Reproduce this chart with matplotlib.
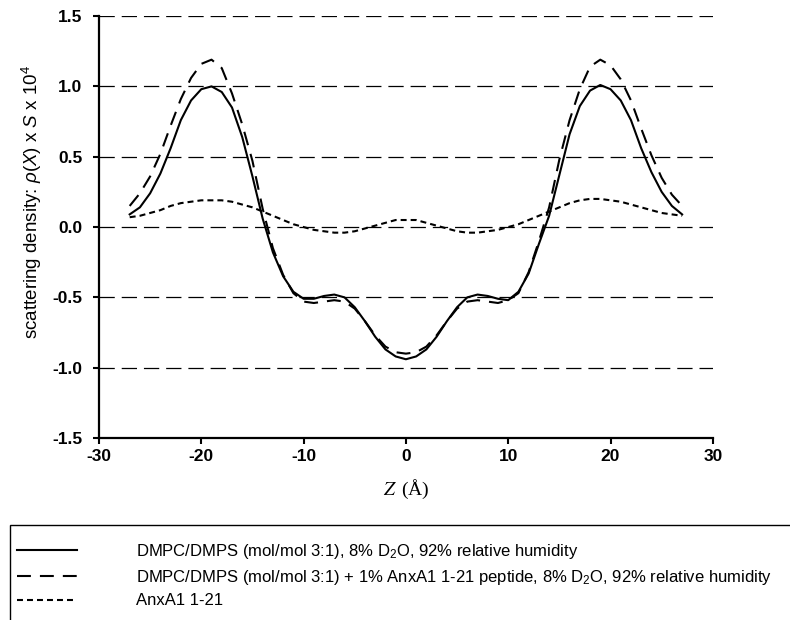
import matplotlib
matplotlib.use("Agg")
import matplotlib.pyplot as plt
import matplotlib.patches as mpatches
import numpy as np

plt.rcParams["font.family"] = ["Liberation Sans", "DejaVu Sans"]
plt.rcParams["mathtext.fontset"] = "custom"
plt.rcParams["mathtext.rm"] = "Liberation Sans"
plt.rcParams["mathtext.it"] = "Liberation Sans:italic"
plt.rcParams["lines.scale_dashes"] = False

# ---------------------------------------------------------------------------
# Data (Z in Angstrom, density x 10^4)
# ---------------------------------------------------------------------------
z = np.arange(-27, 28)

lipid_only = [
    0.09, 0.14, 0.24, 0.38, 0.56, 0.76, 0.90, 0.98, 1.00, 0.96,
    0.85, 0.64, 0.36, 0.06, -0.18, -0.35, -0.46, -0.51, -0.51, -0.49,
    -0.48, -0.50, -0.57, -0.67, -0.78, -0.87, -0.92, -0.94,
    -0.92, -0.87, -0.78, -0.67, -0.57, -0.50, -0.48, -0.49, -0.51, -0.52,
    -0.46, -0.33, -0.12, 0.08, 0.37, 0.66, 0.86, 0.97, 1.01, 0.98,
    0.90, 0.76, 0.56, 0.39, 0.25, 0.15, 0.09,
]

with_peptide = [
    0.15, 0.24, 0.36, 0.52, 0.72, 0.91, 1.06, 1.16, 1.19, 1.13,
    0.95, 0.73, 0.47, 0.13, -0.15, -0.34, -0.47, -0.53, -0.54, -0.53,
    -0.52, -0.53, -0.58, -0.67, -0.77, -0.85, -0.89, -0.90,
    -0.89, -0.85, -0.77, -0.67, -0.58, -0.53, -0.52, -0.53, -0.54, -0.52,
    -0.47, -0.32, -0.10, 0.14, 0.48, 0.76, 0.98, 1.14, 1.19, 1.15,
    1.05, 0.90, 0.70, 0.51, 0.35, 0.23, 0.15,
]

peptide_only = [
    0.07, 0.08, 0.10, 0.12, 0.15, 0.17, 0.18, 0.19, 0.19, 0.19,
    0.18, 0.16, 0.14, 0.11, 0.08, 0.05, 0.02, 0.00, -0.02, -0.03,
    -0.04, -0.04, -0.03, -0.01, 0.01, 0.03, 0.05, 0.05,
    0.05, 0.03, 0.01, -0.01, -0.03, -0.04, -0.04, -0.03, -0.02, 0.00,
    0.02, 0.05, 0.08, 0.11, 0.14, 0.17, 0.19, 0.20, 0.20, 0.19,
    0.18, 0.16, 0.14, 0.12, 0.10, 0.09, 0.08,
]

labels = [
    "DMPC/DMPS (mol/mol 3:1), 8% D$_2$O, 92% relative humidity",
    "DMPC/DMPS (mol/mol 3:1) + 1% AnxA1 1-21 peptide, 8% D$_2$O, 92% relative humidity",
    "AnxA1 1-21",
]

x_ticks = [-30, -20, -10, 0, 10, 20, 30]
y_ticks = [-1.5, -1.0, -0.5, 0.0, 0.5, 1.0, 1.5]
grid_levels = [-1.0, -0.5, 0.0, 0.5, 1.0, 1.5]

# ---------------------------------------------------------------------------
# Figure
# ---------------------------------------------------------------------------
fig = plt.figure(figsize=(7.9, 6.2), dpi=100)
ax = fig.add_axes([0.1253, 0.2935, 0.777, 0.6806])

for lvl in grid_levels:
    ax.axhline(lvl, color="black", lw=0.9, dashes=(11, 5), zorder=1)

l1, = ax.plot(z, lipid_only, color="black", lw=1.5, label=labels[0], zorder=3)
l2, = ax.plot(z, with_peptide, color="black", lw=1.5, dashes=(10, 6.5),
              label=labels[1], zorder=3)
l3, = ax.plot(z, peptide_only, color="black", lw=1.5, dashes=(4.3, 2.9),
              label=labels[2], zorder=3)

ax.set_xlim(-30, 30)
ax.set_ylim(-1.5, 1.5)
ax.set_xticks(x_ticks)
ax.set_yticks(y_ticks)
ax.set_xticklabels([f"{v:d}" for v in x_ticks], fontweight="bold", fontsize=12.5)
ax.set_yticklabels([f"{v:.1f}" for v in y_ticks], fontweight="bold", fontsize=12.5)
ax.tick_params(axis="y", direction="out", length=4, width=1.5, pad=8)
ax.tick_params(axis="x", direction="out", length=4, width=1.5, pad=4)

for side in ("top", "right"):
    ax.spines[side].set_visible(False)
for side in ("left", "bottom"):
    ax.spines[side].set_linewidth(1.6)

ax.set_ylabel(r"scattering density: $\rho(X)$ x $S$ x 10$^4$", fontsize=13.5)
ax.yaxis.set_label_coords(-0.09, 0.56)
ax.set_xlabel(r"$Z\,$ (Å)", fontsize=14, family="Liberation Serif",
              math_fontfamily="stix")
ax.xaxis.labelpad = 10

# legend box below the plot (right/bottom edges run off the figure)
fig.patches.append(mpatches.Rectangle(
    (0.013, -0.05), 1.0, 0.203, transform=fig.transFigure,
    facecolor="none", edgecolor="black", lw=1.0))
fig.legend(handles=[l1, l2, l3], loc="upper left",
           bbox_to_anchor=(0.003, 0.15), frameon=False, fontsize=12,
           handlelength=3.6, handletextpad=3.5, labelspacing=0.4)

fig.savefig("out.png", dpi=100)
